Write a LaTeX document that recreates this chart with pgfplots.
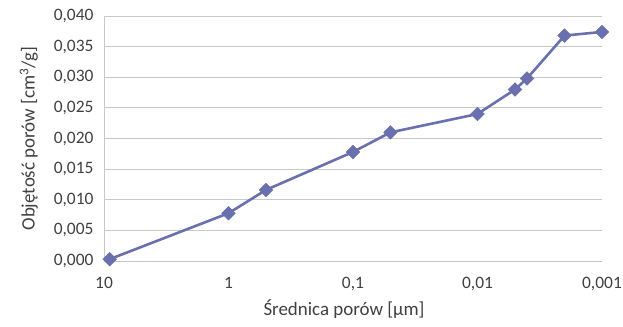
\documentclass[border=0pt]{standalone}
\usepackage{pgfplots}
\pgfplotsset{compat=1.18}
\usepackage{fontspec}
\setmainfont{Carlito}
\definecolor{serie}{RGB}{106,112,174}
\definecolor{txt}{RGB}{64,64,64}
\definecolor{gridc}{RGB}{200,200,200}
\begin{document}
\begin{tikzpicture}
\begin{axis}[
  scale only axis,
  width=498bp, height=245bp,
  xmode=log, x dir=reverse,
  xmin=0.001, xmax=10,
  ymin=0, ymax=0.04,
  xtick={10,1,0.1,0.01,0.001},
  xticklabels={10,1,{0,1},{0,01},{0,001}},
  ytick={0,0.005,...,0.0401},
  yticklabel style={/pgf/number format/fixed,/pgf/number format/fixed zerofill,/pgf/number format/precision=3,/pgf/number format/use comma},
  scaled y ticks=false,
  axis x line*=bottom, axis y line*=left,
  axis line style={gridc, line width=0.8bp, -},
  major tick length=0pt,
  ymajorgrids, grid style={gridc, line width=0.8bp},
  tick label style={font=\fontsize{17.5}{20}\selectfont, text=txt},
  /pgf/number format/assume math mode=true,
  xticklabel style={yshift=-13bp},
  yticklabel style={xshift=-7bp},
  xlabel={Średnica porów [µm]},
  ylabel={Objętość porów [cm\textsuperscript{3}/g]},
  label style={font=\fontsize{19}{22}\selectfont, text=txt},
  xlabel style={yshift=-2bp, xshift=-9bp},
  ylabel style={yshift=9bp},
]
\addplot[serie, line width=2.6bp, mark=square*, mark size=4.8bp, mark options={rotate=45, fill=serie, draw=serie, line width=0.5bp}]
coordinates {
(9,0.0003) (1,0.0078) (0.5,0.0116) (0.1,0.0178) (0.05,0.0210)
(0.01,0.0240) (0.005,0.0280) (0.004,0.0298) (0.002,0.0368) (0.001,0.0374)
};
\end{axis}
\pgfresetboundingbox
\useasboundingbox ([xshift=-104bp,yshift=-66bp]current axis.south west) rectangle ([xshift=21bp,yshift=16bp]current axis.north east);
\end{tikzpicture}
\end{document}
